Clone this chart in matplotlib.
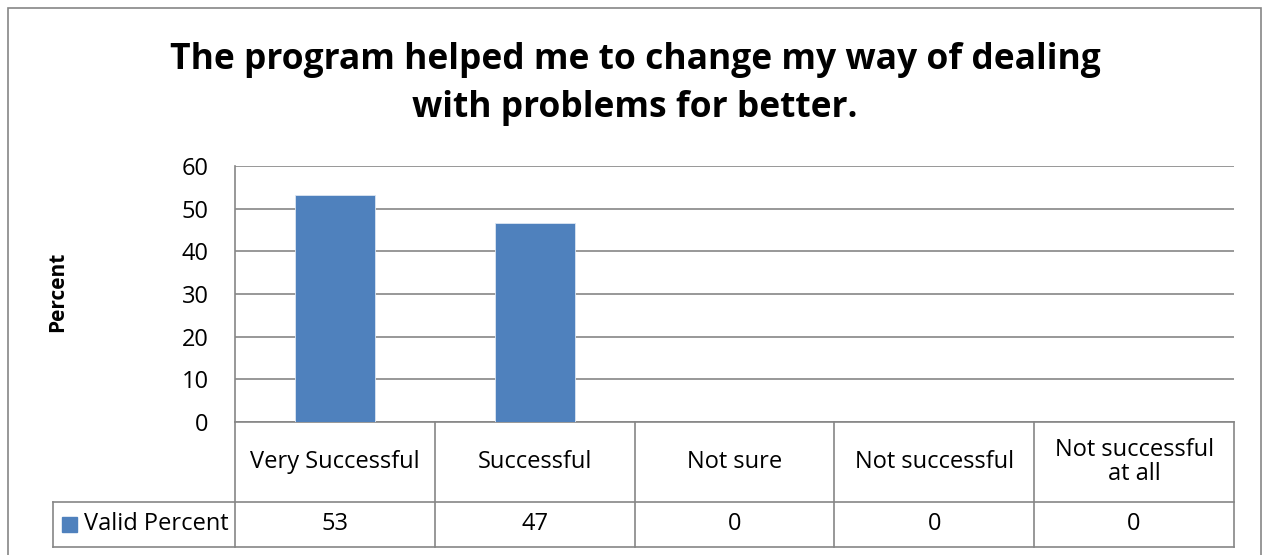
import matplotlib.pyplot as plt
from matplotlib.patches import Rectangle

categories = ["Very Successful", "Successful", "Not sure", "Not successful", "Not successful\nat all"]
valid_percent = [53.3, 46.7, 0, 0, 0]
table_values = ["53", "47", "0", "0", "0"]
series_name = "Valid Percent"
y_ticks = [0, 10, 20, 30, 40, 50, 60]
title_lines = ["The program helped me to change my way of dealing", "with problems for better."]

W, H = 1262, 555
bar_color = "#4F81BD"
line_color = "#868686"

plt.rcParams['font.family'] = ['Open Sans', 'DejaVu Sans']

fig = plt.figure(figsize=(W / 100, H / 100), dpi=100)

# outer chart frame
fig.patches.append(Rectangle((8 / W, -0.05), (1261 - 8) / W, 1.05 - 8 / H,
                             transform=fig.transFigure, fill=False,
                             edgecolor=line_color, linewidth=1.2))

# plot area in pixels
left, right, top, zero = 235, 1234, 166, 422
ax = fig.add_axes([left / W, 1 - zero / H, (right - left) / W, (zero - top) / H])

x = list(range(len(categories)))
ax.bar(x, valid_percent, width=0.4, color=bar_color, edgecolor="#DCE6F2", linewidth=0.6, zorder=3)
ax.set_xlim(-0.5, len(categories) - 0.5)
ax.set_ylim(0, 60)
ax.set_yticks(y_ticks)
ax.yaxis.grid(True, color=line_color, linewidth=1.2, zorder=0)
ax.tick_params(axis='y', length=0, pad=19, labelsize=17)
ax.tick_params(axis='x', length=0, labelbottom=False)
for s in ["top", "right"]:
    ax.spines[s].set_visible(False)
for s in ["left", "bottom"]:
    ax.spines[s].set_color(line_color)
    ax.spines[s].set_linewidth(1.2)

ax.set_ylabel("Percent", fontsize=15, fontweight="bold", va="center")
ax.yaxis.set_label_coords((58 - left) / (right - left), 1 - (292 - top) / (zero - top))

# data table under the axis
ph = zero - top
row1 = -(502 - zero) / ph
row2 = -(547 - zero) / ph
leg_left = (53 - left) / 200 - 0.5
tr = ax.get_xaxis_transform()
kw = dict(transform=tr, color=line_color, linewidth=1.2, clip_on=False)
n = len(categories)
for b in range(n + 1):
    ax.plot([b - 0.5, b - 0.5], [0, row2], **kw)
ax.plot([leg_left, leg_left], [row1, row2], **kw)
ax.plot([leg_left, n - 0.5], [row1, row1], **kw)
ax.plot([leg_left, n - 0.5], [row2, row2], **kw)

for i, cat in enumerate(categories):
    ax.text(i, row1 / 2, cat, transform=tr, ha="center", va="center",
            fontsize=17, linespacing=1.0)
    ax.text(i, (row1 + row2) / 2, table_values[i], transform=tr,
            ha="center", va="center", fontsize=17)

ax.add_patch(Rectangle((leg_left + 0.045, (row1 + row2) / 2 - 0.03), 0.075, 0.058,
                       transform=tr, color=bar_color, clip_on=False))
ax.text(leg_left + 0.155, (row1 + row2) / 2, series_name, transform=tr,
        ha="left", va="center", fontsize=17)

for k, (line, base) in enumerate(zip(title_lines, [69, 117])):
    fig.text(635 / W, 1 - base / H, line, ha="center", va="baseline",
             fontsize=25.5, fontweight="bold")

fig.savefig("out.png", dpi=100)
